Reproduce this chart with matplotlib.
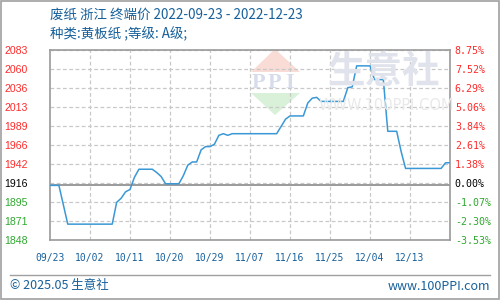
import matplotlib
matplotlib.use('Agg')
import matplotlib.pyplot as plt
import numpy as np
from matplotlib.patches import Polygon, Rectangle
from matplotlib.lines import Line2D

plt.rcParams['font.family'] = ['Noto Sans CJK SC', 'DejaVu Sans']

title = '废纸 浙江 终端价 2022-09-23 - 2022-12-23'
subtitle = '种类:黄板纸 ;等级: A级;'
footer_left = '© 2025.05 生意社'
footer_right = 'www.100PPI.com'

base_price = 1916
# day offset from 09/23 and price (yuan/ton)
days = [0, 2, 3, 4, 14, 15, 16, 17, 18, 19, 20, 23, 24, 25, 26, 29, 30, 31,
        32, 33, 34, 35, 36, 37, 38, 39, 40, 41, 51, 52, 53, 54, 57, 58, 59,
        60, 61, 66, 67, 68, 69, 72, 73, 75, 76, 78, 79, 80, 88, 89, 90]
prices = [1916, 1916, 1892, 1868, 1868, 1895, 1900, 1908, 1911, 1926, 1936,
          1936, 1932, 1927, 1918, 1918, 1928, 1941, 1945, 1945, 1960, 1964,
          1964, 1967, 1978, 1980, 1978, 1980, 1980, 1989, 1998, 2002, 2002,
          2018, 2024, 2025, 2020, 2020, 2037, 2038, 2064, 2064, 2047, 2047,
          1983, 1983, 1958, 1937, 1937, 1944, 1944]

xtick_days = [0, 9, 18, 27, 36, 45, 54, 63, 72, 81]
xtick_labels = ['09/23', '10/02', '10/11', '10/20', '10/29',
                '11/07', '11/16', '11/25', '12/04', '12/13']
price_labels = [1848, 1871, 1895, 1916, 1942, 1966, 1989, 2013, 2036, 2060, 2083]
pct_labels = [-3.53, -2.30, -1.07, 0.00, 1.38, 2.61, 3.84, 5.06, 6.29, 7.52, 8.75]

RED = '#ff2a2a'
GREEN = '#2ea82e'
BLUE_TXT = '#17609a'
LINE = '#3a98d6'
FRAME = '#9a9a9a'


def sign_color(v):
    if v > 0:
        return RED
    if v < 0:
        return GREEN
    return 'black'


fig = plt.figure(figsize=(5, 3), dpi=100)
ax = fig.add_axes([0.1, 0.2, 0.8, 1 - 0.2 - 50 / 300])

ymin = base_price * (1 + pct_labels[0] / 100)
ymax = base_price * (1 + pct_labels[-1] / 100)
ax.set_xlim(0, 90)
ax.set_ylim(ymin, ymax)
grid_y = np.linspace(ymin, ymax, len(price_labels))

# grid
for gy in grid_y:
    ax.axhline(gy, color='#c8c8c8', lw=0.9, ls=(0, (3, 2)), zorder=1)
for gx in xtick_days[1:]:
    ax.axvline(gx, color='#c8c8c8', lw=0.9, ls=(0, (3, 2)), zorder=1)
ax.axhline(base_price, color=FRAME, lw=1.4, zorder=2)

ax.plot(days, prices, color=LINE, lw=1.1, zorder=3)

for s in ax.spines.values():
    s.set_color(FRAME)
    s.set_linewidth(1.2)

ax.set_xticks(xtick_days)
ax.set_xticklabels(xtick_labels, family='DejaVu Sans Mono', fontsize=7, color=BLUE_TXT)
ax.tick_params(axis='x', length=0, pad=9.5)

ax.set_yticks(grid_y)
ax.set_yticklabels([str(p) for p in price_labels], family='Liberation Sans', fontsize=7.6)
ax.tick_params(axis='y', length=0, pad=16)
for lbl, p in zip(ax.get_yticklabels(), pct_labels):
    lbl.set_color(sign_color(p))

ax2 = ax.twinx()
ax2.set_ylim(ymin, ymax)
ax2.set_yticks(grid_y)
ax2.set_yticklabels([f'{p:.2f}%' for p in pct_labels], family='DejaVu Sans Mono', fontsize=7.2)
ax2.tick_params(axis='y', length=0, pad=3.5)
for lbl, p in zip(ax2.get_yticklabels(), pct_labels):
    lbl.set_color(sign_color(p))
for s in ax2.spines.values():
    s.set_visible(False)


def fp(x, y):
    return (x / 500, 1 - y / 300)


# watermark logo
fig.add_artist(Polygon([fp(275, 49), fp(251, 72), fp(300, 72)], closed=True,
                       transform=fig.transFigure, facecolor='#f9dcd6', edgecolor='none', zorder=0))
fig.add_artist(Polygon([fp(251, 93), fp(300, 93), fp(275, 115)], closed=True,
                       transform=fig.transFigure, facecolor='#d9f0d9', edgecolor='none', zorder=0))
for i, ch in enumerate('PPI'):
    fig.text((258 + i * 16) / 500, 1 - 83 / 300, ch, fontsize=16, fontweight='bold',
             color='#d6dcea', family='Liberation Serif', ha='center', va='center', zorder=0)
fig.text(384 / 500, 1 - 72 / 300, '生意社', fontsize=27, fontweight='bold', color='#e0e3ec',
         ha='center', va='center', zorder=0)
fig.text(386 / 500, 1 - 105 / 300, 'WWW.100PPI.COM', fontsize=10.5, color='#e9e9e9',
         family='DejaVu Sans', ha='center', va='center', zorder=0)
ax.patch.set_alpha(0)
ax2.patch.set_alpha(0)

# titles
fig.text(50 / 500, 1 - 15 / 300, title, fontsize=9.7, color=BLUE_TXT, va='center')
fig.text(50 / 500, 1 - 34 / 300, subtitle, fontsize=9.7, color=BLUE_TXT, va='center')

# footer
fig.add_artist(Line2D([10 / 500, 490 / 500], [1 - 275 / 300, 1 - 275 / 300],
                      transform=fig.transFigure, color='#a0a0a0', lw=1))
fig.text(10 / 500, 1 - 286 / 300, footer_left, fontsize=9, color=BLUE_TXT, va='center')
fig.text(490 / 500, 1 - 286 / 300, footer_right, fontsize=9, color=BLUE_TXT,
         va='center', ha='right')

# outer border
fig.add_artist(Rectangle((0.001, 0.002), 0.997, 0.996, transform=fig.transFigure,
                         fill=False, edgecolor='#a0a0a0', lw=1.2))

fig.savefig('out.png', dpi=100)
